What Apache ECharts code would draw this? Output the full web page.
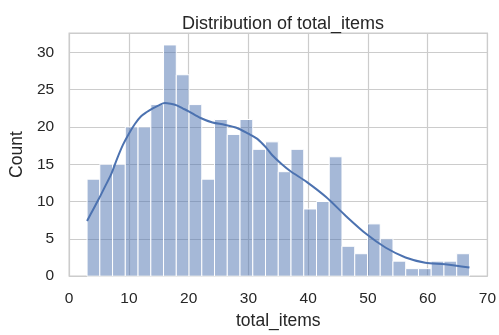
<!DOCTYPE html>
<html>
<head>
<meta charset="utf-8">
<script src="https://cdn.jsdelivr.net/npm/echarts@6/dist/echarts.min.js"></script>
<style>
  html, body { margin: 0; padding: 0; background: #fff; }
  #chart { width: 499px; height: 335px; }
</style>
</head>
<body>
<div id="chart"></div>
<script>
// Histogram of total_items: 30 equal-width bins from 3 to 67
const binMin = 3;
const binMax = 67;
const binCounts = [13, 15, 15, 20, 20, 23, 31, 27, 23, 13, 21, 19, 21, 17, 18,
                   14, 17, 9, 10, 16, 4, 3, 7, 5, 2, 1, 1, 2, 2, 3];

// Kernel density estimate, scaled to counts
const kdeX = [3, 4, 5, 6, 7, 8, 9, 10, 11, 12, 13, 14, 15, 16, 17, 18, 19, 20, 22, 24,
              26, 28, 30, 31.5, 33, 34, 35.6, 37, 39.8, 43, 46.4, 49.8, 53, 56.3, 59.6, 62.9, 67];
const kdeY = [7.4, 8.9, 10.4, 12.0, 13.6, 15.7, 17.6, 19.1, 20.4, 21.4, 22.0, 22.5, 22.9, 23.2, 23.1, 22.9, 22.5, 22.1, 21.2, 20.6,
              20.3, 19.9, 19.1, 18.4, 17.2, 16.2, 15.0, 14.1, 12.6, 10.6, 8.0, 5.6, 3.8, 2.5, 1.8, 1.6, 1.15];

const xTicks = { min: 0, max: 70, step: 10 };
const yTicks = { min: 0, max: 32.6, step: 5 };

const binWidth = (binMax - binMin) / binCounts.length;
const histData = binCounts.map((c, i) => [binMin + i * binWidth, binMin + (i + 1) * binWidth, c]);
const kdeData = kdeX.map((x, i) => [x, kdeY[i]]);

const FONT = "'Liberation Sans', Arial, sans-serif";
const TEXT = '#262626';
const GRID = '#cccccc';

const chart = echarts.init(document.getElementById('chart'), null, { renderer: 'canvas' });
chart.setOption({
  animation: false,
  backgroundColor: '#ffffff',
  title: {
    text: 'Distribution of total_items',
    left: 278,
    textAlign: 'center',
    top: 10,
    textStyle: { fontFamily: FONT, fontSize: 18, fontWeight: 'normal', color: TEXT }
  },
  grid: {
    left: 69, right: 6, top: 33, bottom: 54,
    show: true, borderColor: GRID, borderWidth: 1.2, backgroundColor: 'transparent'
  },
  xAxis: {
    type: 'value',
    min: xTicks.min, max: xTicks.max, interval: xTicks.step,
    name: 'total_items',
    nameLocation: 'middle',
    nameGap: 34,
    nameTextStyle: { fontFamily: FONT, fontSize: 17.5, color: TEXT },
    axisLine: { show: false },
    axisTick: { show: false },
    axisLabel: { fontFamily: FONT, fontSize: 15.5, color: TEXT, margin: 15 },
    splitLine: { show: true, lineStyle: { color: GRID, width: 1.2 } }
  },
  yAxis: {
    type: 'value',
    min: yTicks.min, max: yTicks.max, interval: yTicks.step,
    name: 'Count',
    nameLocation: 'middle',
    nameGap: 40,
    nameTextStyle: { fontFamily: FONT, fontSize: 17.5, color: TEXT },
    axisLine: { show: false },
    axisTick: { show: false },
    axisLabel: { fontFamily: FONT, fontSize: 15.5, color: TEXT, margin: 15, showMaxLabel: false },
    splitLine: { show: true, lineStyle: { color: GRID, width: 1.2 } }
  },
  series: [
    {
      type: 'custom',
      data: histData,
      encode: { x: [0, 1], y: 2 },
      renderItem: function (params, api) {
        const top = api.coord([api.value(0), api.value(2)]);
        const base = api.coord([api.value(1), 0]);
        return {
          type: 'rect',
          shape: { x: top[0], y: top[1], width: base[0] - top[0], height: base[1] - top[1] },
          style: { fill: 'rgba(76,114,176,0.5)', stroke: '#ffffff', lineWidth: 1 }
        };
      },
      z: 2
    },
    {
      type: 'line',
      data: kdeData,
      smooth: 0.3,
      showSymbol: false,
      lineStyle: { color: '#4C72B0', width: 2 },
      z: 3
    }
  ]
});
</script>
</body>
</html>
